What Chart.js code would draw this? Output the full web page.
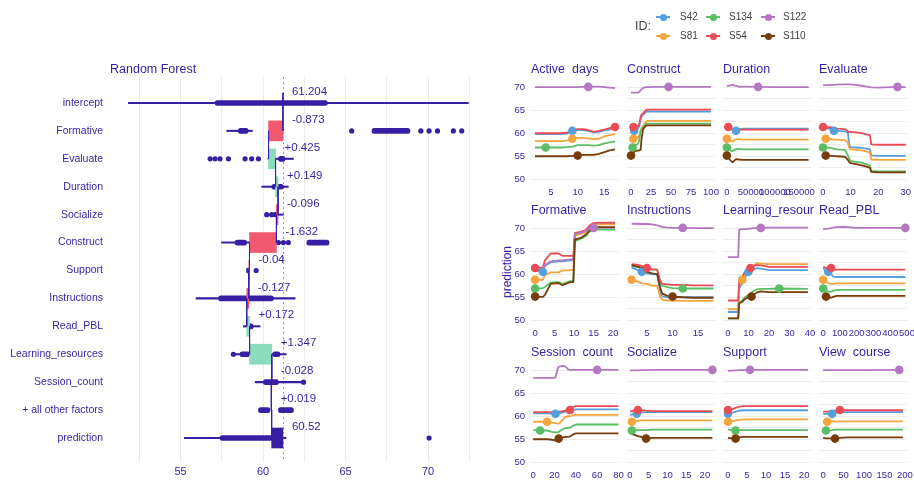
<!DOCTYPE html>
<html>
<head>
<meta charset="utf-8">
<script src="https://cdn.jsdelivr.net/npm/chart.js@4.4.0/dist/chart.umd.min.js"></script>
<style>
  html, body { margin: 0; padding: 0; background: #fff; width: 914px; height: 480px; overflow: hidden; }
  body { position: relative; font-family: "Liberation Sans", Arial, sans-serif; }
  canvas { position: absolute; }
  .lg { position: absolute; color: #444; font-size: 10px; line-height: 12px; }
  .lg-line { position: absolute; width: 14px; height: 2px; }
  .lg-dot { position: absolute; width: 7px; height: 7px; border-radius: 50%; }
  #ylab { position: absolute; left: 507px; top: 272px; transform: translate(-50%, -50%) rotate(-90deg);
          font-size: 12px; color: #371ea3; white-space: nowrap; }
</style>
</head>
<body>
<div id="ylab">prediction</div>
<script>
const FONT = '"Liberation Sans", Arial, sans-serif';
const INK = '#371ea3';

// ---------- break down (left) ----------
const bdRows = ['intercept', 'Formative', 'Evaluate', 'Duration', 'Socialize', 'Construct', 'Support',
  'Instructions', 'Read_PBL', 'Learning_resources', 'Session_count', '+ all other factors', 'prediction'];
const bdIntercept = 61.204;
const bdContrib = [-0.873, 0.425, 0.149, -0.096, -1.632, -0.04, -0.127, 0.172, 1.347, -0.028, 0.019];
const bdPrediction = 60.52;
// thin whisker per row (null = none)
const bdWhiskers = [[51.84, 72.44], [57.8, 59.35], [60.3, 61.84], [59.92, 61.53], [60.22, 61.23], [57.49, 59.6],
  null, [55.94, 61.94], [58.8, 59.82], [58.2, 61.4], [59.52, 62.3], null, [55.23, 61.39]];
// thick bands: [row, from, to]
const bdBands = [[0, 57.09, 63.9], [1, 58.5, 59.1], [1, 66.6, 68.9], [2, 60.93, 61.33], [3, 60.53, 61.23],
  [4, 60.63, 60.93], [5, 58.3, 59.0], [5, 62.65, 64.0], [6, 59.0, 59.15], [7, 57.3, 60.63], [8, 59.0, 59.4],
  [9, 58.6, 59.2], [9, 60.58, 61.03], [10, 60.02, 60.93], [11, 59.72, 60.42], [11, 60.93, 61.84], [12, 57.39, 60.62]];
// single points: [row, value]
const bdDots = [[1, 65.37], [1, 69.56], [1, 70.06], [1, 70.57], [1, 71.53], [1, 72.04],
  [2, 56.79], [2, 57.09], [2, 57.39], [2, 57.9], [2, 58.91], [2, 59.31], [2, 59.72],
  [4, 60.22], [4, 60.53], [5, 60.93], [5, 61.23], [5, 61.53], [6, 59.58], [9, 58.2], [10, 62.45], [12, 70.06]];

// ---------- ceteris paribus profiles (right) ----------
const ids = ['S42', 'S81', 'S134', 'S54', 'S122', 'S110'];
const idColors = ['#55a0dc', '#f5a53c', '#5abe64', '#eb4b55', '#b478c3', '#783c0a'];
const predicted = [60.52, 58.8, 56.9, 61.35, 70.05, 55.15];

const activeDaysX = [2, 3, 4, 5, 6, 7, 8, 9, 10, 11, 12, 13, 14, 15, 16, 17];
const activeDaysY = [
  [59.8, 59.8, 59.8, 59.8, 59.8, 59.8, 59.9, 60.52, 60.7, 60.7, 60.5, 60.2, 60.3, 60.6, 60.8, 61.0],
  [58.3, 58.3, 58.3, 58.3, 58.3, 58.3, 58.4, 58.8, 59.0, 59.0, 58.9, 58.7, 58.8, 59.3, 59.6, 59.8],
  [56.9, 56.9, 56.9, 56.9, 56.9, 56.9, 57.0, 57.1, 57.4, 57.4, 57.4, 57.3, 57.4, 57.8, 58.0, 58.2],
  [60.0, 60.0, 60.0, 60.0, 60.0, 60.0, 60.1, 60.8, 60.9, 60.9, 60.7, 60.3, 60.5, 60.8, 61.1, 61.35],
  [70.0, 70.0, 70.0, 70.0, 70.0, 70.0, 70.0, 70.0, 70.0, 70.05, 70.05, 70.1, 70.1, 70.0, 69.9, 69.8],
  [55.0, 55.0, 55.0, 55.0, 55.0, 55.0, 55.0, 55.1, 55.15, 55.3, 55.3, 55.3, 55.5, 55.9, 56.3, 56.5]];
const activeDaysObs = [9, 9, 4, 17, 12, 10];

const constructX = [0, 1, 2, 3, 4, 5, 8, 10, 12, 13, 15, 18, 20, 30, 47, 60, 80, 100];
const constructY = [
  [60.0, 60.1, 60.2, 60.4, 60.52, 60.6, 60.8, 61.5, 63.0, 63.6, 64.0, 64.5, 64.7, 64.7, 64.7, 64.7, 64.7, 64.7],
  [58.6, 58.7, 58.7, 58.8, 58.8, 58.9, 59.0, 59.3, 60.5, 61.0, 61.5, 62.3, 62.7, 62.7, 62.7, 62.7, 62.7, 62.7],
  [56.7, 56.8, 56.9, 57.2, 57.4, 57.5, 57.6, 58.3, 60.3, 60.8, 61.3, 61.8, 62.1, 62.1, 62.1, 62.1, 62.1, 62.1],
  [61.3, 61.3, 61.3, 61.35, 61.4, 61.4, 61.5, 61.6, 63.5, 64.0, 64.3, 64.9, 65.1, 65.1, 65.1, 65.1, 65.1, 65.1],
  [68.8, 68.8, 68.8, 68.8, 68.8, 68.8, 68.8, 68.9, 69.3, 69.5, 69.8, 70.0, 70.0, 70.05, 70.05, 70.05, 70.05, 70.05],
  [55.15, 55.2, 55.5, 55.7, 56.0, 56.1, 56.2, 56.3, 56.4, 58.5, 60.8, 61.5, 61.7, 61.7, 61.7, 61.7, 61.7, 61.7]];
const constructObs = [4, 3, 2, 3, 47, 0];

const durationX = [0, 3000, 8000, 12000, 15000, 19000, 25000, 35000, 65000, 100000, 170000];
const durationY = [
  [61.3, 61.2, 61.0, 60.7, 60.5, 60.52, 60.9, 61.0, 61.0, 61.0, 61.0],
  [58.8, 58.6, 58.3, 58.2, 58.4, 58.7, 58.7, 58.6, 58.6, 58.6, 58.6],
  [56.9, 56.6, 56.2, 56.1, 56.3, 56.6, 56.6, 56.5, 56.5, 56.5, 56.5],
  [61.4, 61.35, 61.0, 60.8, 60.8, 60.8, 60.8, 60.8, 60.8, 60.8, 60.8],
  [70.2, 70.3, 70.4, 70.5, 70.4, 70.3, 70.1, 70.1, 70.05, 70.0, 70.0],
  [55.15, 54.8, 54.0, 53.7, 54.0, 54.4, 54.3, 54.2, 54.2, 54.2, 54.2]];
const durationObs = [19000, 0, 0, 3000, 65000, 0];

const evaluateX = [0, 1, 3, 4, 5, 8, 9, 9.5, 10, 12, 14, 16, 17, 17.5, 20, 27, 30];
const evaluateY = [
  [61.2, 61.1, 60.9, 60.52, 60.5, 60.4, 60.2, 57.5, 57.0, 56.9, 56.8, 56.6, 56.5, 55.2, 55.1, 55.1, 55.1],
  [58.9, 58.8, 58.7, 58.6, 58.6, 58.5, 58.0, 56.8, 56.5, 56.4, 56.3, 56.0, 55.8, 54.3, 54.2, 54.2, 54.2],
  [56.9, 56.9, 56.8, 56.6, 56.5, 56.4, 55.2, 54.5, 54.0, 53.8, 53.6, 53.2, 53.0, 51.8, 51.7, 51.7, 51.7],
  [61.35, 61.3, 61.3, 61.1, 61.0, 60.9, 60.4, 60.3, 60.3, 60.2, 60.0, 59.7, 59.6, 57.6, 57.5, 57.5, 57.5],
  [70.4, 70.45, 70.5, 70.5, 70.55, 70.6, 70.6, 70.6, 70.6, 70.5, 70.3, 70.1, 70.0, 69.95, 69.9, 70.05, 70.0],
  [55.2, 55.15, 55.1, 55.1, 55.0, 54.9, 54.2, 53.8, 53.5, 53.3, 53.0, 52.7, 52.5, 51.6, 51.5, 51.5, 51.5]];
const evaluateObs = [4, 1, 0, 0, 27, 1];

const formativeX = [0, 2, 2.5, 4, 6, 7, 9, 9.8, 10.2, 12, 13, 14, 15, 16, 20.5];
const formativeY = [
  [60.8, 60.52, 61.8, 62.6, 62.8, 62.8, 63.0, 63.0, 68.5, 69.0, 69.3, 70.3, 70.8, 70.9, 70.9],
  [58.8, 58.8, 59.8, 60.4, 60.4, 60.8, 60.9, 60.9, 68.4, 68.8, 69.2, 70.2, 70.6, 70.8, 70.8],
  [56.9, 57.0, 57.2, 58.2, 58.3, 57.9, 58.5, 58.5, 67.2, 67.8, 68.3, 69.3, 69.6, 69.7, 69.7],
  [61.35, 61.4, 63.0, 64.5, 64.5, 64.0, 64.0, 64.0, 68.9, 69.3, 69.6, 70.6, 71.1, 71.2, 71.2],
  [61.0, 61.0, 62.0, 62.8, 63.0, 63.0, 63.2, 63.2, 68.7, 69.1, 69.4, 69.9, 70.05, 70.1, 70.1],
  [55.15, 55.1, 55.5, 57.9, 58.1, 57.6, 58.3, 58.3, 67.5, 68.0, 68.6, 69.5, 70.1, 70.2, 70.2]];
const formativeObs = [2, 0, 0, 0, 15, 0];

const instructionsX = [2, 3, 4, 5, 6, 7, 7.6, 8, 9, 10, 12, 14, 18];
const instructionsY = [
  [61.5, 61.0, 60.52, 60.2, 60.0, 60.0, 56.0, 55.2, 55.0, 55.0, 55.0, 55.0, 55.0],
  [58.8, 58.5, 58.0, 57.9, 57.5, 57.5, 55.0, 54.5, 54.3, 54.3, 54.2, 54.2, 54.2],
  [61.8, 61.6, 61.3, 61.1, 61.0, 61.0, 58.0, 57.5, 57.2, 57.0, 56.9, 56.9, 56.9],
  [62.2, 62.1, 61.8, 61.35, 61.1, 61.0, 58.5, 57.9, 57.8, 57.7, 57.7, 57.6, 57.6],
  [70.95, 70.95, 70.9, 70.9, 70.8, 70.6, 70.4, 70.2, 70.1, 70.05, 70.05, 70.0, 70.0],
  [62.0, 61.7, 61.4, 60.5, 60.2, 60.0, 57.0, 55.8, 55.3, 55.15, 55.0, 54.9, 54.9]];
const instructionsObs = [4, 2, 12, 5, 12, 10];

const learningX = [0, 5, 5.5, 7, 8, 9, 10, 11, 11.5, 12, 14, 16, 20, 25, 39];
const learningY = [
  [51.8, 51.8, 57.0, 58.0, 59.0, 59.8, 60.52, 60.7, 60.8, 61.0, 61.3, 61.2, 60.9, 60.9, 60.9],
  [52.4, 52.4, 57.5, 58.8, 59.8, 60.5, 61.0, 61.3, 61.5, 61.7, 62.4, 62.3, 62.2, 62.2, 62.2],
  [50.4, 50.4, 53.8, 54.3, 54.9, 55.2, 55.5, 55.8, 56.0, 56.2, 56.7, 56.8, 56.8, 56.9, 56.8],
  [54.3, 54.3, 58.5, 59.5, 60.3, 60.8, 61.0, 61.35, 61.5, 61.7, 62.0, 61.9, 61.6, 61.6, 61.6],
  [63.7, 63.7, 69.7, 69.8, 69.8, 69.8, 69.9, 69.9, 69.9, 70.0, 70.0, 70.05, 70.1, 70.1, 70.1],
  [50.4, 50.4, 53.7, 54.0, 54.5, 54.8, 55.0, 55.1, 55.15, 55.3, 56.0, 56.3, 56.1, 56.1, 56.1]];
const learningObs = [10, 7, 25, 11, 16, 11.5];

const readPblX = [0, 10, 17, 30, 47, 60, 80, 120, 200, 300, 400, 490];
const readPblY = [
  [61.3, 61.0, 60.8, 60.52, 60.0, 59.5, 59.4, 59.4, 59.4, 59.4, 59.4, 59.4],
  [58.8, 58.6, 58.4, 58.1, 57.9, 57.9, 58.0, 58.0, 58.0, 58.0, 58.0, 58.0],
  [56.9, 56.7, 56.5, 56.3, 56.2, 56.4, 56.6, 56.6, 56.6, 56.6, 56.6, 56.6],
  [61.6, 61.5, 61.45, 61.4, 61.35, 60.9, 61.0, 61.0, 61.0, 61.0, 61.0, 61.0],
  [69.8, 69.8, 69.85, 69.9, 70.0, 70.1, 70.2, 70.3, 70.05, 70.05, 70.05, 70.05],
  [55.3, 55.2, 55.15, 55.0, 54.9, 55.1, 55.3, 55.3, 55.3, 55.3, 55.3, 55.3]];
const readPblObs = [30, 0, 0, 47, 490, 17];

const sessionX = [0, 6.5, 13, 18, 21, 23, 24, 25, 28, 30, 33, 34.5, 37, 40, 60, 80];
const sessionY = [
  [60.6, 60.6, 60.6, 60.55, 60.52, 60.5, 60.5, 60.6, 60.9, 61.0, 61.0, 61.0, 61.3, 61.5, 61.5, 61.5],
  [58.8, 58.8, 58.8, 58.6, 58.5, 58.4, 58.4, 58.5, 59.3, 59.8, 60.0, 60.0, 60.2, 60.3, 60.3, 60.3],
  [57.0, 56.9, 56.9, 56.6, 56.5, 56.5, 56.6, 56.8, 57.2, 57.4, 57.5, 57.5, 57.9, 58.2, 58.2, 58.2],
  [60.9, 60.9, 60.9, 60.9, 60.9, 60.9, 60.9, 61.0, 61.1, 61.2, 61.3, 61.35, 62.0, 62.2, 62.2, 62.2],
  [68.3, 68.3, 68.3, 68.3, 68.4, 70.3, 70.7, 70.8, 70.9, 70.8, 70.1, 70.05, 70.05, 70.05, 70.05, 70.05],
  [55.0, 55.0, 55.0, 54.9, 54.7, 54.9, 55.15, 55.2, 55.4, 55.5, 55.5, 55.6, 56.0, 56.3, 56.3, 56.3]];
const sessionObs = [21, 13, 6.5, 34.5, 60, 24];

const socializeX = [0, 0.5, 1, 1.8, 2.1, 3, 4.3, 6, 10, 22];
const socializeY = [
  [60.3, 60.4, 60.45, 60.52, 60.6, 60.8, 60.9, 60.9, 60.9, 60.9],
  [58.7, 58.8, 58.9, 59.0, 59.0, 59.1, 59.1, 59.1, 59.1, 59.1],
  [56.8, 56.9, 57.0, 57.0, 57.0, 57.0, 57.0, 57.1, 57.1, 57.1],
  [61.0, 61.1, 61.2, 61.3, 61.35, 61.3, 61.2, 61.1, 61.1, 61.1],
  [69.95, 69.95, 69.95, 69.95, 69.95, 70.0, 70.0, 70.05, 70.05, 70.05],
  [56.3, 56.2, 56.0, 55.8, 55.7, 55.5, 55.15, 55.3, 55.3, 55.3]];
const socializeObs = [1.8, 0.5, 0.5, 2.1, 22, 4.3];

const supportX = [0, 1, 2, 3, 4, 5.8, 10, 21];
const supportY = [
  [60.52, 60.7, 61.0, 61.2, 61.3, 61.3, 61.3, 61.3],
  [58.8, 58.9, 59.1, 59.2, 59.3, 59.3, 59.3, 59.3],
  [57.1, 57.0, 56.9, 57.0, 57.0, 57.0, 57.0, 57.0],
  [61.35, 61.5, 61.8, 62.1, 62.2, 62.2, 62.2, 62.2],
  [69.85, 69.9, 69.95, 70.0, 70.0, 70.05, 70.05, 70.05],
  [55.3, 55.2, 55.15, 55.4, 55.5, 55.5, 55.5, 55.5]];
const supportObs = [0, 0, 2, 0, 5.8, 2];

const viewCourseX = [0, 7, 10, 22, 29, 41, 60, 100, 186, 195];
const viewCourseY = [
  [60.5, 60.5, 60.5, 60.52, 60.8, 60.9, 60.9, 60.9, 60.9, 60.9],
  [58.8, 58.8, 58.8, 58.9, 58.9, 58.9, 58.9, 58.9, 58.9, 58.9],
  [56.9, 56.9, 56.95, 57.0, 57.1, 57.1, 57.1, 57.1, 57.1, 57.1],
  [61.0, 61.0, 61.0, 61.1, 61.2, 61.35, 61.3, 61.3, 61.3, 61.3],
  [70.0, 70.0, 70.0, 70.0, 70.0, 70.0, 70.0, 70.0, 70.05, 70.05],
  [55.3, 55.2, 55.2, 55.2, 55.15, 55.3, 55.4, 55.4, 55.4, 55.4]];
const viewCourseObs = [22, 10, 7, 41, 186, 29];

const cpPanels = [
  { title: 'Active  days', x: activeDaysX, y: activeDaysY, obs: activeDaysObs, min: 1.25, max: 17.75, ticks: [5, 10, 15] },
  { title: 'Construct', x: constructX, y: constructY, obs: constructObs, min: -5, max: 105, ticks: [0, 25, 50, 75, 100] },
  { title: 'Duration', x: durationX, y: durationY, obs: durationObs, min: -8000, max: 175000, ticks: [0, 50000, 100000, 150000] },
  { title: 'Evaluate', x: evaluateX, y: evaluateY, obs: evaluateObs, min: -1.45, max: 30.45, ticks: [0, 10, 20, 30] },
  { title: 'Formative', x: formativeX, y: formativeY, obs: formativeObs, min: -1.05, max: 21.5, ticks: [0, 5, 10, 15, 20] },
  { title: 'Instructions', x: instructionsX, y: instructionsY, obs: instructionsObs, min: 1.1, max: 18.3, ticks: [5, 10, 15] },
  { title: 'Learning_resources', x: learningX, y: learningY, obs: learningObs, min: -2.4, max: 40.5, ticks: [0, 10, 20, 30, 40] },
  { title: 'Read_PBL', x: readPblX, y: readPblY, obs: readPblObs, min: -25, max: 500, ticks: [0, 100, 200, 300, 400, 500] },
  { title: 'Session  count', x: sessionX, y: sessionY, obs: sessionObs, min: -2, max: 80.5, ticks: [0, 20, 40, 60, 80] },
  { title: 'Socialize', x: socializeX, y: socializeY, obs: socializeObs, min: -0.8, max: 22.7, ticks: [0, 5, 10, 15, 20] },
  { title: 'Support', x: supportX, y: supportY, obs: supportObs, min: -1.3, max: 21.8, ticks: [0, 5, 10, 15, 20] },
  { title: 'View  course', x: viewCourseX, y: viewCourseY, obs: viewCourseObs, min: -10, max: 205, ticks: [0, 50, 100, 150, 200] }
];
const cpGridValues = [50, 52.5, 55, 57.5, 60, 62.5, 65, 67.5, 70];

function makeCanvas(left, top, width, height) {
  const c = document.createElement('canvas');
  c.width = width;
  c.height = height;
  c.style.left = left + 'px';
  c.style.top = top + 'px';
  c.style.width = width + 'px';
  c.style.height = height + 'px';
  document.body.appendChild(c);
  return c;
}

// ---------- break down chart ----------
const cum = [bdIntercept];
bdContrib.forEach((v, i) => cum.push(Math.round((cum[i] + v) * 1000) / 1000));

const contribBars = [];
const contribColors = [];
bdContrib.forEach((v, i) => {
  contribBars.push({ x: [cum[i], cum[i + 1]], y: i + 1 });
  contribColors.push(v >= 0 ? '#8bdcbe' : '#f05a71');
});
contribBars.push({ x: [bdPrediction, bdIntercept], y: 12 });
contribColors.push(INK);

// vertical connectors between consecutive bars
const connectors = [];
for (let i = 0; i < 12; i++) {
  connectors.push({ x: cum[i], y: i === 0 ? -0.36 : i });
  connectors.push({ x: cum[i], y: i + 1 });
  connectors.push({ x: null, y: i + 1 });
}

const bdLabels = bdRows.map((r, i) => {
  if (i === 0) return { text: String(bdIntercept), at: bdIntercept };
  if (i === 12) return { text: String(bdPrediction), at: Math.max(bdPrediction, bdIntercept) };
  const v = bdContrib[i - 1];
  return { text: (v > 0 ? '+' : '') + v, at: Math.max(cum[i - 1], cum[i]) };
});

const breakdownDecor = {
  id: 'breakdownDecor',
  beforeDatasetsDraw(chart) {
    const { ctx, chartArea, scales } = chart;
    const px = Math.round(scales.x.getPixelForValue(bdIntercept)) + 0.5;
    ctx.save();
    ctx.strokeStyle = '#a09ad0';
    ctx.lineWidth = 1;
    ctx.setLineDash([2, 3]);
    ctx.beginPath();
    ctx.moveTo(px, chartArea.top);
    ctx.lineTo(px, chartArea.bottom);
    ctx.stroke();
    ctx.restore();
  },
  afterDatasetsDraw(chart) {
    const { ctx, chartArea, scales } = chart;
    ctx.save();
    ctx.fillStyle = INK;
    ctx.textBaseline = 'middle';
    ctx.textAlign = 'left';
    ctx.font = '11.5px ' + FONT;
    bdLabels.forEach((l, i) => {
      ctx.fillText(l.text, scales.x.getPixelForValue(l.at) + 9, scales.y.getPixelForValue(i) - 11);
    });
    ctx.font = '12.5px ' + FONT;
    ctx.fillText('Random Forest', chartArea.left - 10, chartArea.top - 7);
    ctx.restore();
  }
};

new Chart(makeCanvas(0, 0, 480, 480), {
  type: 'bar',
  data: {
    datasets: [
      { type: 'scatter', data: connectors, showLine: true, borderColor: INK, borderWidth: 1,
        pointRadius: 0, spanGaps: false, order: 0 },
      { type: 'bar', data: contribBars, backgroundColor: contribColors, barThickness: 20,
        grouped: false, order: 1 },
      { type: 'scatter', data: bdDots.map(d => ({ x: d[1], y: d[0] })), pointRadius: 2.6,
        backgroundColor: INK, borderWidth: 0, order: 2 },
      { type: 'bar', data: bdBands.map(b => ({ x: [b[1], b[2]], y: b[0] })), backgroundColor: INK,
        barThickness: 5, borderRadius: 2.5, borderSkipped: false, grouped: false, order: 3 },
      { type: 'bar', data: bdWhiskers.map((w, i) => w ? { x: w, y: i } : null).filter(Boolean),
        backgroundColor: INK, barThickness: 1.4, grouped: false, order: 4 }
    ]
  },
  options: {
    indexAxis: 'y',
    responsive: false,
    animation: false,
    devicePixelRatio: 1,
    events: [],
    layout: { padding: { top: 77, right: 9, left: 0, bottom: 0 } },
    plugins: { legend: { display: false }, tooltip: { enabled: false } },
    scales: {
      x: {
        type: 'linear', min: 51.33, max: 72.6, offset: false,
        afterBuildTicks: s => { s.ticks = [52.5, 55, 57.5, 60, 62.5, 65, 67.5, 70, 72.5].map(v => ({ value: v })); },
        afterFit: s => { s.height = 18; s.paddingLeft = 0; s.paddingRight = 0; },
        grid: { color: '#ebebeb', drawTicks: false, offset: false },
        border: { display: false },
        ticks: { autoSkip: false, maxRotation: 0, padding: 3, color: INK, font: { family: FONT, size: 11 },
          callback: v => (v % 5 === 0 ? String(v) : '') }
      },
      y: {
        type: 'linear', reverse: true, min: -0.93, max: 12.86, offset: false,
        afterBuildTicks: s => { s.ticks = bdRows.map((_, i) => ({ value: i })); },
        afterFit: s => { s.width = 120; s.paddingTop = 0; s.paddingBottom = 0; },
        grid: { display: false, drawTicks: false, offset: false },
        border: { display: false },
        ticks: { autoSkip: false, padding: 17, color: INK, font: { family: FONT, size: 10.5 },
          callback: v => bdRows[v] }
      }
    }
  },
  plugins: [breakdownDecor]
});

// ---------- profile panels ----------
const panelTitle = {
  id: 'panelTitle',
  afterDraw(chart, args, opts) {
    const { ctx, chartArea } = chart;
    ctx.save();
    ctx.beginPath();
    ctx.rect(chartArea.left - 2, 0, chartArea.width + 5, chartArea.top);
    ctx.clip();
    ctx.fillStyle = INK;
    ctx.font = '12.5px ' + FONT;
    ctx.textBaseline = 'middle';
    ctx.textAlign = 'left';
    ctx.fillText(opts.text, chartArea.left, chartArea.top - 7);
    ctx.restore();
  }
};

const rowTops = [77, 218, 360];
cpPanels.forEach((p, k) => {
  const col = k % 4;
  const row = Math.floor(k / 4);
  const areaLeft = 531 + 96 * col;
  const areaTop = rowTops[row];
  const padL = col === 0 ? 30 : 12, padR = 12, padT = 20, axisH = 16;
  const areaW = 88, areaH = 106;
  const canvas = makeCanvas(areaLeft - padL, areaTop - padT, padL + areaW + padR, padT + areaH + axisH);

  const datasets = [];
  ids.forEach((id, i) => {
    datasets.push({
      label: id,
      data: p.x.map((xv, j) => ({ x: xv, y: p.y[i][j] })),
      showLine: true, borderColor: idColors[i], borderWidth: 1.8, pointRadius: 0,
      borderJoinStyle: 'round', order: 100 - i
    });
  });
  ids.forEach((id, i) => {
    datasets.push({
      label: id + ' obs',
      data: [{ x: p.obs[i], y: predicted[i] }],
      pointRadius: 4.3, backgroundColor: idColors[i], borderWidth: 0, clip: false, order: 10 - i
    });
  });

  new Chart(canvas, {
    type: 'scatter',
    data: { datasets },
    options: {
      responsive: false,
      animation: false,
      devicePixelRatio: 1,
      events: [],
      // first column keeps its tick labels inside the y scale box
      layout: { padding: { top: padT, left: col === 0 ? 0 : padL, right: padR, bottom: 0 } },
      plugins: { legend: { display: false }, tooltip: { enabled: false }, panelTitle: { text: p.title } },
      scales: {
        x: {
          type: 'linear', min: p.min, max: p.max,
          afterBuildTicks: s => { s.ticks = p.ticks.map(v => ({ value: v })); },
          afterFit: s => { s.height = axisH; s.paddingLeft = 0; s.paddingRight = 0; },
          grid: { display: false, drawTicks: false },
          border: { display: false },
          ticks: { autoSkip: false, maxRotation: 0, minRotation: 0, padding: 4, color: INK,
            font: { family: FONT, size: 9.5 }, callback: v => String(v) }
        },
        y: {
          type: 'linear', min: 49.2, max: 72.2,
          afterBuildTicks: s => { s.ticks = cpGridValues.map(v => ({ value: v })); },
          afterFit: s => { s.width = col === 0 ? padL : 0; s.paddingTop = 0; s.paddingBottom = 0; },
          grid: { color: '#ebebeb', drawTicks: false },
          border: { display: false },
          ticks: { display: col === 0, padding: 6, color: INK, font: { family: FONT, size: 9.5 },
            callback: v => (v % 5 === 0 ? String(v) : '') }
        }
      }
    },
    plugins: [panelTitle]
  });
});

// ---------- legend ----------
const legendMarkX = [663, 713, 768];
const legendTextX = [680, 729, 783];
const legendRowY = [17, 36];
const idLabel = document.createElement('div');
idLabel.className = 'lg';
idLabel.style.fontSize = '12.5px';
idLabel.style.left = '635px';
idLabel.style.top = (27 - 7) + 'px';
idLabel.textContent = 'ID:';
document.body.appendChild(idLabel);
ids.forEach((id, i) => {
  const c = Math.floor(i / 2), r = i % 2;
  const line = document.createElement('div');
  line.className = 'lg-line';
  line.style.background = idColors[i];
  line.style.left = (legendMarkX[c] - 7) + 'px';
  line.style.top = (legendRowY[r] - 1) + 'px';
  const dot = document.createElement('div');
  dot.className = 'lg-dot';
  dot.style.background = idColors[i];
  dot.style.left = (legendMarkX[c] - 3.5) + 'px';
  dot.style.top = (legendRowY[r] - 3.5) + 'px';
  const txt = document.createElement('div');
  txt.className = 'lg';
  txt.style.left = legendTextX[c] + 'px';
  txt.style.top = (legendRowY[r] - 6) + 'px';
  txt.textContent = id;
  document.body.appendChild(line);
  document.body.appendChild(dot);
  document.body.appendChild(txt);
});
</script>
</body>
</html>
